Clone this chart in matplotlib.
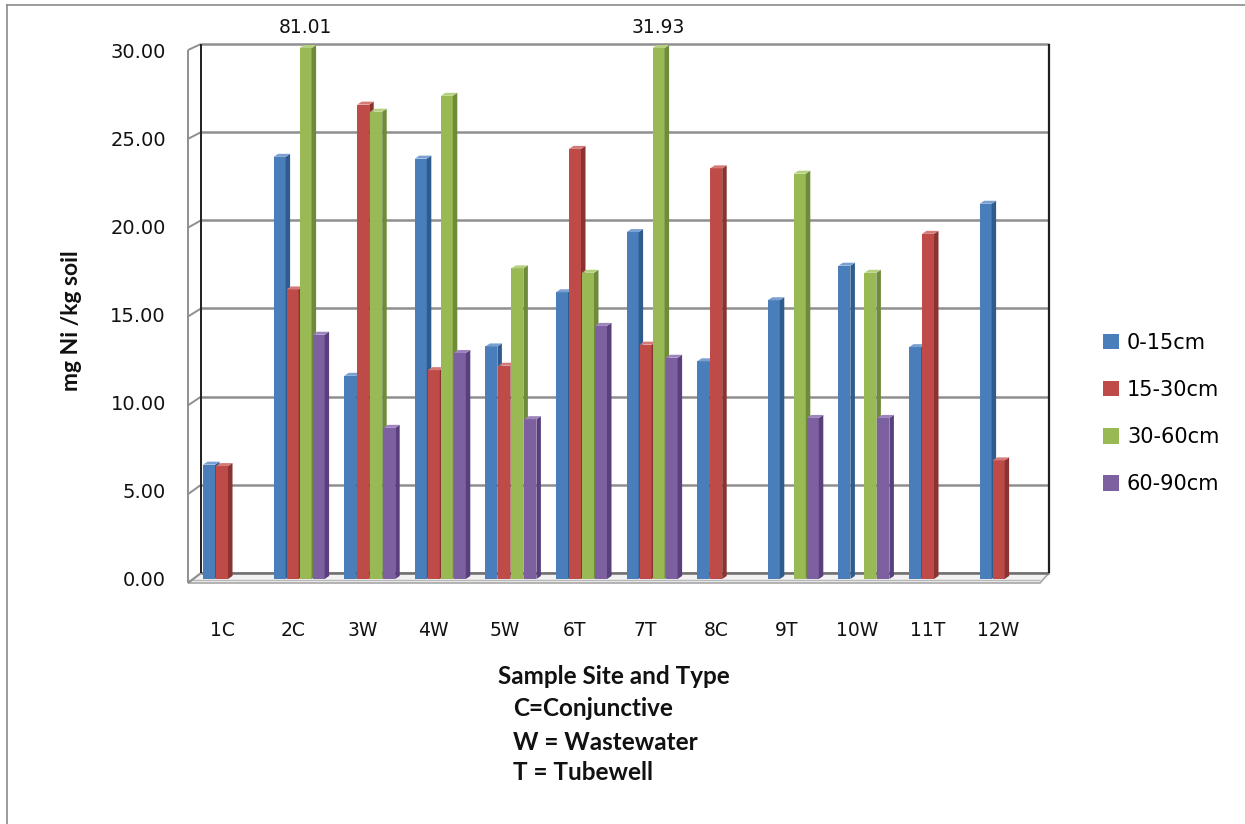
import numpy as np
import matplotlib
matplotlib.use("Agg")
import matplotlib.pyplot as plt
from matplotlib.patches import Polygon, Patch
from matplotlib.lines import Line2D

nan = np.nan
categories = ["1C", "2C", "3W", "4W", "5W", "6T", "7T", "8C", "9T", "10W", "11T", "12W"]
series_names = ["0-15cm", "15-30cm", "30-60cm", "60-90cm"]
d0_15 = [6.46, 23.85, 11.48, 23.75, 13.14, 16.2, 19.6, 12.3, 15.75, 17.7, 13.1, 21.2]
d15_30 = [6.38, 16.36, 26.8, 11.8, 12.05, 24.3, 13.24, 23.2, nan, nan, 19.5, 6.7]
d30_60 = [nan, 81.01, 26.4, 27.3, 17.55, 17.3, 31.93, nan, 22.9, 17.3, nan, nan]
d60_90 = [nan, 13.8, 8.54, 12.77, 9.03, 14.3, 12.5, nan, 9.1, 9.1, nan, nan]
y_ticks = [0, 5, 10, 15, 20, 25, 30]
y_max = 30

front_cols = ["#4A7EBB", "#BE4B48", "#98B954", "#7D60A0"]
side_cols = ["#2F5C8F", "#8B3331", "#6F8A3A", "#5A3F7D"]
top_cols = ["#7AA0D2", "#D47A77", "#B5D07E", "#9C84BC"]

W, H = 1245, 824
fig = plt.figure(figsize=(W / 100, H / 100), dpi=100)
ax = fig.add_axes([0, 0, 1, 1])

X0, XS = 229.0, 70.6   # pixel of category 0 center, pixels per category
Y0, YS = 579.0, 17.7   # pixel of value 0, pixels per unit


def px2x(px):
    return (px - X0) / XS


def py2y(py):
    return (Y0 - py) / YS


ax.set_xlim(px2x(0), px2x(W))
ax.set_ylim(py2y(H), py2y(0))
ax.axis("off")

grid_c = "#8f8f8f"


def line_px(xs, ys, **kw):
    ax.plot([px2x(v) for v in xs], [py2y(v) for v in ys], solid_capstyle="butt", **kw)


# floor
floor = Polygon([(px2x(188), py2y(583)), (px2x(1040), py2y(583)),
                 (px2x(1049), py2y(573)), (px2x(201), py2y(573))],
                closed=True, facecolor="#f2f2f2", edgecolor="#a6a6a6", lw=1.2, zorder=1)
ax.add_patch(floor)
line_px([188, 1040], [579.5, 579.5], color="#b8b8b8", lw=1.0, zorder=1)

# gridlines on back wall and left wall
for v in y_ticks:
    yb = 573 - (529 / 30) * v
    yf = 583 - (533 / 30) * v
    col = grid_c if v > 0 else "#6e6e6e"
    line_px([201, 1049], [yb, yb], color=col, lw=1.8, zorder=1.5)
    line_px([188, 201], [yf, yb], color=grid_c, lw=1.4, zorder=1.5)
# left wall front edge
line_px([188, 188], [583, 50], color=grid_c, lw=1.4, zorder=1.5)
# back wall vertical edges
line_px([201, 201], [573, 44], color="#1f1f1f", lw=1.4, zorder=1.6)
line_px([1049, 1049], [573, 44], color="#1f1f1f", lw=1.6, zorder=1.6)

# bars with 3D look
slot = 13 / XS
w = 12 / XS
ddx = 4.5 / XS
ddy = 3.0 / YS
series = [d0_15, d15_30, d30_60, d60_90]
idx = np.arange(len(categories))
for s, vals in enumerate(series):
    vals = np.array(vals, dtype=float)
    h = np.minimum(vals, y_max)
    xl = idx - 2 * slot + s * slot
    bars = ax.bar(xl, h, width=w, align="edge", color=front_cols[s], lw=0, zorder=3 + s)
    for rect in bars:
        hh = rect.get_height()
        if not np.isfinite(hh):
            continue
        x = rect.get_x()
        side = Polygon([(x + w, 0), (x + w, hh), (x + w + ddx, hh + ddy), (x + w + ddx, ddy)],
                       closed=True, facecolor=side_cols[s], lw=0, zorder=3 + s)
        top = Polygon([(x, hh), (x + w, hh), (x + w + ddx, hh + ddy), (x + ddx, hh + ddy)],
                      closed=True, facecolor=top_cols[s], lw=0, zorder=3 + s)
        ax.add_patch(side)
        ax.add_patch(top)
    for i, v in enumerate(vals):
        if np.isfinite(v) and v > y_max:
            ax.text(xl[i] + w / 2, py2y(28), f"{v:.2f}", ha="center", va="center",
                    fontsize=13.5, color="#111111", family="DejaVu Sans")

# y tick labels
for v in y_ticks:
    ax.text(px2x(166), py2y(580.5 - 17.6 * v), f"{v:.2f}", ha="right", va="center",
            fontsize=14, color="#111111", family="DejaVu Sans")

# x tick labels
for i, c in enumerate(categories):
    ax.text(i - 7 / XS, py2y(630), c, ha="center", va="center",
            fontsize=13.5, color="#111111", family="DejaVu Sans")

# axis titles
ax.text(px2x(72), py2y(321), "mg Ni /kg soil", rotation=90, ha="center", va="center",
        fontsize=16.5, fontweight="bold", family="Lato", color="#111111")
ax.text(px2x(613.5), py2y(677), "Sample Site and Type", ha="center", va="center",
        fontsize=17.5, fontweight="bold", family="Lato", color="#111111")
for txt, yy in [("C=Conjunctive", 709), ("W = Wastewater", 742), ("T = Tubewell", 773)]:
    ax.text(px2x(513), py2y(yy), txt, ha="left", va="center",
            fontsize=17.5, fontweight="bold", family="Lato", color="#111111")

# legend
handles = [Patch(facecolor=c, edgecolor="none") for c in front_cols]
fig.legend(handles, series_names, loc="upper left", bbox_to_anchor=(1103 / W, 1 - 333 / H),
           frameon=False, handlelength=0.75, handleheight=0.75,
           handletextpad=0.4, labelspacing=1.3, borderpad=0, borderaxespad=0,
           prop={"family": "DejaVu Sans", "size": 15})

# outer chart border
fig.add_artist(Line2D([7 / W, 7 / W], [0, 1 - 5 / H], transform=fig.transFigure, color="#8a8a8a", lw=1.2))
fig.add_artist(Line2D([7 / W, 1], [1 - 5 / H, 1 - 5 / H], transform=fig.transFigure, color="#8a8a8a", lw=1.2))

fig.savefig("out.png", dpi=100)
